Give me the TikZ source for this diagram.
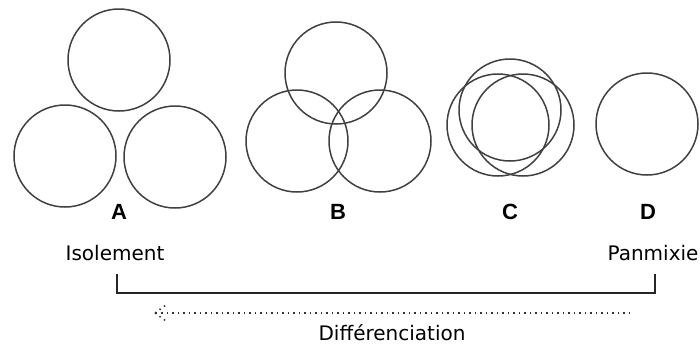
\documentclass[tikz,border=0pt]{standalone}
\usepackage{fontspec}
\setmainfont{DejaVu Sans}
\newfontfamily\lettrefont{Liberation Sans}
\usetikzlibrary{calc}
\tikzstyle{pop}=[draw=black!75, line width=0.75pt]
\tikzstyle{lettre}=[font=\lettrefont\bfseries\fontsize{11}{12}\selectfont]
\tikzstyle{mot}=[font=\fontsize{10}{12}\selectfont]
\tikzstyle{barre}=[draw=black!85, line width=0.8pt]
\tikzstyle{pointille}=[draw=black!80, line width=0.75pt, dotted]

\begin{document}
\begin{tikzpicture}[x=0.5pt, y=-0.5pt]
\useasboundingbox (0,0) rectangle (700,349);
\foreach \n/\x/\y in {a1/119/60, a2/65/156, a3/175/157, b1/336/73, b2/297/141, b3/380/141, c1/510/110, c2/498/125, c3/523/125, d1/647/124} {
 \draw[pop] (\x,\y) circle[radius=51];
}
\foreach \n/\x in {A/119, B/338, C/510, D/648} {
 \node[lettre] (\n) at (\x,212) {\n};
}
\node[mot] (isol) at (115,253) {Isolement};
\node[mot] (panm) at (653,253) {Panmixie};
\coordinate (gauche) at (117,274);
\coordinate (droite) at (655,274);
\draw[barre] (gauche) -- (117,293) -- (655,293) -- (droite);
\coordinate (depart) at (630,313);
\coordinate (pointe) at (155,313);
\draw[pointille] (depart) -- (pointe);
\draw[pointille] (pointe) -- ++(11,-8) (pointe) -- ++(11,8);
\node[mot] (diff) at (392,333) {Différenciation};
\end{tikzpicture}
\end{document}
